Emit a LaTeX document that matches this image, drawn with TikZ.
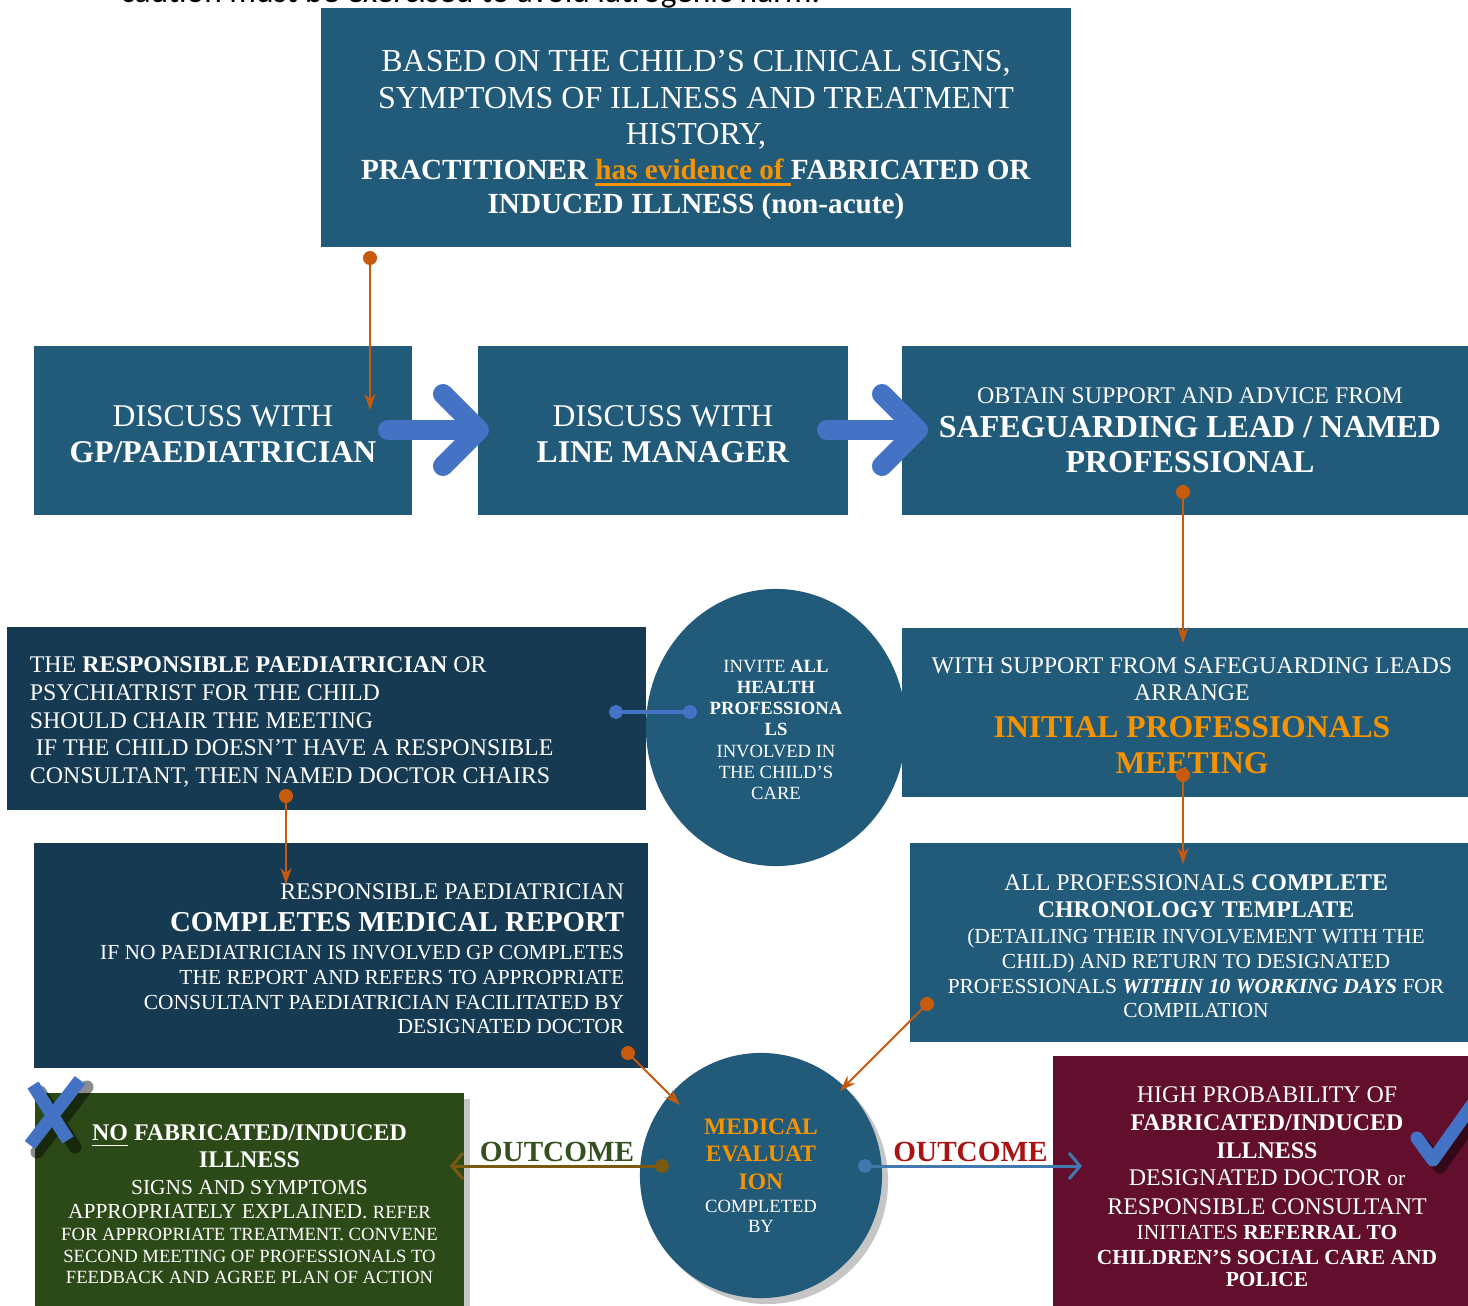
\documentclass[tikz,border=0pt]{standalone}
\usepackage{fontspec}
\setmainfont{Liberation Serif}
\newfontfamily\capfont{Carlito}
\usetikzlibrary{arrows.meta,shapes.geometric,shadows}

\definecolor{boxblue}{HTML}{225A7A}
\definecolor{darkblue}{HTML}{153A52}
\definecolor{grn}{HTML}{2C4918}
\definecolor{mrn}{HTML}{620F2D}
\definecolor{orng}{HTML}{F59300}
\definecolor{orln}{HTML}{C65A0F}
\definecolor{chev}{HTML}{4472C4}
\definecolor{brn}{HTML}{7A5A10}
\definecolor{outgrn}{HTML}{33501E}
\definecolor{outred}{HTML}{A81414}
\definecolor{rblue}{HTML}{4178B0}

\newcommand\fz[2]{\fontsize{#1}{#2}\selectfont\spaceskip=0pt\xspaceskip=0pt}
% centred text nudged to the right by #1
\newcommand\midr[1]{\centering\leftskip=#1 plus 1fil}
% taller first line, pushes the text block down by half of #1
\newcommand\lift[1]{\rule{0pt}{\dimexpr0.7em+#1\relax}}
% thick underline
\newcommand\thul[1]{\setbox0=\hbox{#1}\rlap{\rule[-1.9pt]{\wd0}{0.9pt}}\box0}

\begin{document}
\begin{tikzpicture}[x=0.01cm, y=-0.01cm,
  every node/.style={text=white, inner sep=0pt},
  box/.style={rectangle, fill=boxblue},
  darkbox/.style={rectangle, fill=darkblue},
  oval/.style={ellipse, fill=boxblue},
  shad/.style={drop shadow={opacity=0.45, shadow xshift=0.6mm, shadow yshift=-0.6mm}},
  orline/.style={draw=orln, line width=0.2mm, {Circle[length=1.4mm]}-{Stealth[length=1.6mm,width=1.1mm]}, shorten <=-0.7mm},
  blink/.style={draw=chev, line width=0.3mm, {Circle[length=1.4mm]}-{Circle[length=1.4mm]}, shorten <=-0.7mm, shorten >=-0.7mm},
  chevron/.style={draw=chev, line width=2mm, line cap=round, -{Straight Barb[length=3.6mm 0, width=7.2mm 0, round]}},
  outline/.style={line width=0.3mm, {Circle[length=1.4mm]}-{Straight Barb[length=1.1mm,width=2.6mm]}, shorten <=-0.7mm},
  outlbl/.style={font=\fz{8.3}{9}\bfseries, inner sep=0.3mm},
  tick/.style={draw=chev, line width=1.3mm, line cap=round, line join=round}]
\useasboundingbox (0,0) rectangle (1468,1306);
\clip (0,0) rectangle (1468,1306);

\node[anchor=base west, text=black, font=\capfont\fz{9.5}{11}] (cap) at (120,2) {caution must be exercised to avoid iatrogenic harm.};

% top box
\node[box, text width=7.2cm, minimum width=7.5cm, minimum height=2.39cm] (top) at (696,127.5)
 {\centering
  \fz{9.1}{10}\lift{0.14cm}BASED ON THE CHILD’S CLINICAL SIGNS,\\
  \fz{9.1}{10.5}SYMPTOMS OF ILLNESS AND TREATMENT\\
  \fz{9.1}{10.2}HISTORY,\\
  \fz{8.3}{9.9}\textbf{PRACTITIONER \textcolor{orng}{\thul{has evidence of }}FABRICATED OR}\\
  \fz{8.3}{9.6}\textbf{INDUCED ILLNESS (non-acute)}\par};

% first row
\node[box, text width=3.6cm, minimum width=3.78cm, minimum height=1.69cm] (gp) at (223,430.5)
 {\centering\fz{9}{10}\lift{0.06cm}DISCUSS WITH\\ \fz{9}{10.2}\textbf{GP/PAEDIATRICIAN}\par};
\node[box, text width=3.6cm, minimum width=3.70cm, minimum height=1.69cm] (lm) at (663,430.5)
 {\centering\fz{9}{10}\lift{0.06cm}DISCUSS WITH\\ \fz{9}{10.2}\textbf{LINE MANAGER}\par};
\node[box, text width=5.4cm, minimum width=5.66cm, minimum height=1.69cm] (obt) at (1185,430.5)
 {\midr{0.1cm}
  \fz{6.8}{8}OBTAIN SUPPORT AND ADVICE FROM\\
  \fz{9.1}{9.6}\textbf{SAFEGUARDING LEAD / NAMED}\\
  \fz{9.1}{9.9}\textbf{PROFESSIONAL}\par};

% second row
\node[darkbox, text width=5.93cm, inner xsep=0.23cm, minimum height=1.83cm] (resp) at (326.5,718.5)
 {\raggedright
  \fz{6.8}{7.9}\lift{0.06cm}THE \textbf{RESPONSIBLE PAEDIATRICIAN} OR\\
  \fz{6.8}{7.9}PSYCHIATRIST FOR THE CHILD\\
  \fz{6.8}{7.9}SHOULD CHAIR THE MEETING\\
  \fz{6.8}{7.9}\hspace*{0.25em}IF THE CHILD DOESN’T HAVE A RESPONSIBLE\\
  \fz{6.8}{7.9}CONSULTANT, THEN NAMED DOCTOR CHAIRS\par};
\node[oval, text width=1.5cm, minimum width=2.60cm, minimum height=2.77cm] (inv) at (776,727.5)
 {\centering
  \fz{5.3}{6.05}\lift{0.04cm}INVITE \textbf{ALL}\\
  \fz{5.3}{6.05}\textbf{HEALTH}\\
  \fz{5.3}{6.05}\textbf{PROFESSIONA}\\
  \fz{5.3}{6.05}\textbf{LS}\\
  \fz{5.3}{6.05}INVOLVED IN\\
  \fz{5.3}{6.05}THE CHILD’S\\
  \fz{5.3}{6.05}CARE\par};
\node[box, text width=5.4cm, minimum width=5.66cm, minimum height=1.69cm] (ipm) at (1185,712.5)
 {\midr{0.14cm}
  \fz{6.8}{8}\lift{0.06cm}WITH SUPPORT FROM SAFEGUARDING LEADS\\
  \fz{6.8}{7.7}ARRANGE\\
  \fz{9}{10.5}\textbf{\textcolor{orng}{INITIAL PROFESSIONALS}}\\
  \fz{9}{10.2}\textbf{\textcolor{orng}{MEETING}}\par};

% third row
\node[darkbox, text width=5.66cm, inner xsep=0.24cm, minimum height=2.25cm] (rep) at (341,955.5)
 {\raggedleft
  \fz{6.8}{8}\lift{0.06cm}RESPONSIBLE PAEDIATRICIAN\\
  \fz{8.2}{9.1}\textbf{COMPLETES MEDICAL REPORT}\\
  \fz{6.1}{7.9}IF NO PAEDIATRICIAN IS INVOLVED GP COMPLETES\\
  \fz{6.1}{7.1}THE REPORT AND REFERS TO APPROPRIATE\\
  \fz{6.1}{7.1}CONSULTANT PAEDIATRICIAN FACILITATED BY\\
  \fz{6.1}{6.8}DESIGNATED DOCTOR\par};
\node[box, text width=5.4cm, minimum width=5.58cm, minimum height=1.99cm] (chr) at (1189,942.5)
 {\midr{0.14cm}
  \fz{6.8}{8}\lift{0.06cm}ALL PROFESSIONALS \textbf{COMPLETE}\\
  \fz{6.8}{7.7}\textbf{CHRONOLOGY TEMPLATE}\\
  \fz{6.1}{7.4}(DETAILING THEIR INVOLVEMENT WITH THE\\
  \fz{6.1}{7.1}CHILD) AND RETURN TO DESIGNATED\\
  \fz{6.1}{7.1}PROFESSIONALS \textbf{\textit{WITHIN 10 WORKING DAYS}} FOR\\
  \fz{6.1}{6.8}COMPILATION\par};

% outcomes
\node[oval, shad, text width=1.4cm, minimum width=2.42cm, minimum height=2.45cm] (med) at (761,1175.5)
 {\centering
  \fz{6.7}{7.7}\textbf{\textcolor{orng}{MEDICAL}}\\
  \fz{6.7}{7.7}\textbf{\textcolor{orng}{EVALUAT}}\\
  \fz{6.7}{7.9}\textbf{\textcolor{orng}{ION}}\\
  \fz{5.3}{6.5}COMPLETED\\
  \fz{5.3}{5.7}BY\par};
\node[box, fill=grn, shad, text width=4.1cm, minimum width=4.29cm, minimum height=2.13cm] (nofii) at (249.5,1199.5)
 {\centering
  \fz{6.8}{7.7}\lift{0.08cm}\textbf{\underline{NO} FABRICATED/INDUCED}\\
  \fz{6.8}{7.7}\textbf{ILLNESS}\\
  \fz{6.1}{7.7}SIGNS AND SYMPTOMS\\
  \fz{6.1}{6.8}APPROPRIATELY EXPLAINED. {\fz{5.3}{6.8}REFER}\\
  \fz{5.3}{6.2}FOR APPROPRIATE TREATMENT. CONVENE\\
  \fz{5.3}{6.2}SECOND MEETING OF PROFESSIONALS TO\\
  \fz{5.3}{6}FEEDBACK AND AGREE PLAN OF ACTION\par};
\node[box, fill=mrn, shad, text width=3.9cm, minimum width=4.15cm, minimum height=2.50cm] (fii) at (1260.5,1181)
 {\midr{0.13cm}
  \fz{6.8}{8}\lift{0.11cm}HIGH PROBABILITY OF\\
  \fz{6.8}{7.9}\textbf{FABRICATED/INDUCED}\\
  \fz{6.8}{7.9}\textbf{ILLNESS}\\
  \fz{6.8}{7.7}DESIGNATED DOCTOR {\fz{6.1}{7.7}or}\\
  \fz{6.8}{8.2}RESPONSIBLE CONSULTANT\\
  \fz{6.1}{7.1}INITIATES \textbf{REFERRAL TO}\\
  \fz{6.1}{7.1}\textbf{CHILDREN’S SOCIAL CARE AND}\\
  \fz{6.1}{6.5}\textbf{POLICE}\par};

% connectors
\coordinate (t1) at (370,258);  \coordinate (t2) at (370,410);
\coordinate (s1) at (1183,492); \coordinate (s2) at (1183,643);
\coordinate (r1) at (286,796);  \coordinate (r2) at (286,884);
\coordinate (m1) at (1183,775); \coordinate (m2) at (1183,864);
\coordinate (p1) at (628,1053); \coordinate (p2) at (680,1105);
\coordinate (c1) at (927,1004); \coordinate (c2) at (840,1091);
\draw[orline] (t1) -- (t2);
\draw[orline] (s1) -- (s2);
\draw[orline] (r1) -- (r2);
\draw[orline] (m1) -- (m2);
\draw[orline] (p1) -- (p2);
\draw[orline] (c1) -- (c2);

\coordinate (i1) at (616,712); \coordinate (i2) at (690,712);
\draw[blink] (i1) -- (i2);

\coordinate (g1) at (388,430); \coordinate (g2) at (489,430);
\coordinate (l1) at (827,430); \coordinate (l2) at (928,430);
\draw[chevron] (g1) -- (g2);
\draw[chevron] (l1) -- (l2);

\coordinate (o1) at (662,1166); \coordinate (o2) at (450,1166);
\coordinate (o3) at (865,1166); \coordinate (o4) at (1082,1166);
\draw[outline, draw=brn] (o1) -- node[outlbl, above, text=outgrn, xshift=0.01cm] (out1) {OUTCOME} (o2);
\draw[outline, draw=rblue] (o3) -- node[outlbl, above, text=outred, xshift=-0.03cm] (out2) {OUTCOME} (o4);

% marks
\begin{scope}[transform canvas={xshift=0.7mm, yshift=-0.7mm}]
\draw[tick, draw=black, opacity=0.45] (33,1085) -- (68,1140) (80,1080) -- (30,1145);
\draw[tick, draw=black, opacity=0.45] (1417,1138) -- (1433,1160) -- (1472,1105);
\end{scope}
\draw[tick, line cap=butt] (33,1085) -- (68,1140) (80,1080) -- (30,1145);
\draw[tick] (1417,1138) -- (1433,1160) -- (1472,1105);
\end{tikzpicture}
\end{document}
